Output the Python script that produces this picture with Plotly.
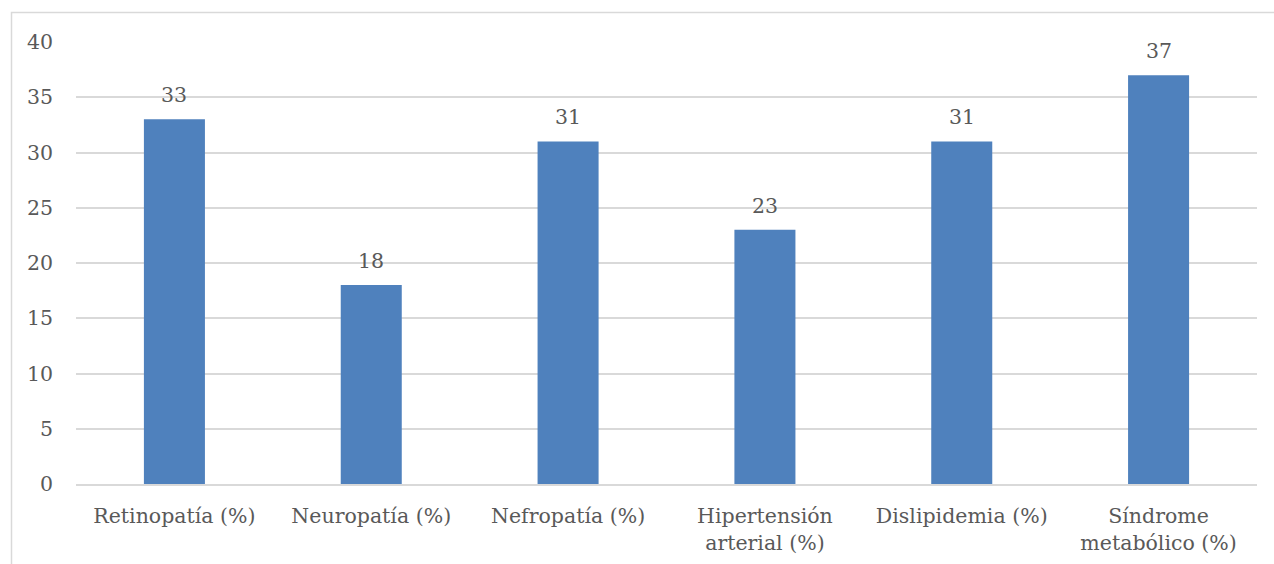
import plotly.graph_objects as go

categories = ["Retinopatía (%)", "Neuropatía (%)", "Nefropatía (%)",
              "Hipertensión<br>arterial (%)", "Dislipidemia (%)",
              "Síndrome<br>metabólico (%)"]
values = [33, 18, 31, 23, 31, 37]
y_ticks = [0, 5, 10, 15, 20, 25, 30, 35, 40]

W, H = 1274, 564
L, R, T, B = 76, 17, 42, 80
pw, ph = W - L - R, H - T - B

def px_to_paper_x(px):
    return (px - L) / pw

def px_to_paper_y(py):
    return (H - B - py) / ph

font_family = "DejaVu Serif"
font_size = 20.5
text_color = "#595959"

fig = go.Figure(go.Bar(
    x=categories,
    y=values,
    marker=dict(color="#4f81bd", line=dict(width=0)),
    hoverinfo="x+y",
))

# value labels above each bar
for c, v in zip(categories, values):
    fig.add_annotation(
        x=c, y=v, text=str(v), showarrow=False,
        yanchor="middle", yshift=24,
        font=dict(family=font_family, size=font_size, color=text_color),
    )

fig.update_layout(
    width=W, height=H,
    margin=dict(l=L, r=R, t=T, b=B, autoexpand=False),
    paper_bgcolor="white",
    plot_bgcolor="white",
    bargap=0.69,
    showlegend=False,
    font=dict(family=font_family, size=font_size, color=text_color),
    xaxis=dict(
        showgrid=False, automargin=False,
        showline=True, linecolor="#d9d9d9", linewidth=1.5,
        ticks="", tickfont=dict(size=font_size, color=text_color),
        ticklabelstandoff=13,
    ),
    yaxis=dict(
        range=[0, 40], automargin=False,
        tickvals=y_ticks,
        showgrid=True, gridcolor="#d9d9d9", gridwidth=1.5,
        zeroline=False, showline=False,
        ticks="", tickfont=dict(size=font_size, color=text_color),
        ticklabelstandoff=22,
    ),
    shapes=[dict(
        type="rect", xref="paper", yref="paper",
        x0=px_to_paper_x(11.5), x1=px_to_paper_x(W + 10),
        y0=px_to_paper_y(H + 10), y1=px_to_paper_y(12.5),
        line=dict(color="#d9d9d9", width=1.5),
        fillcolor="rgba(0,0,0,0)", layer="below",
    )],
)

fig.write_html("out.html")
